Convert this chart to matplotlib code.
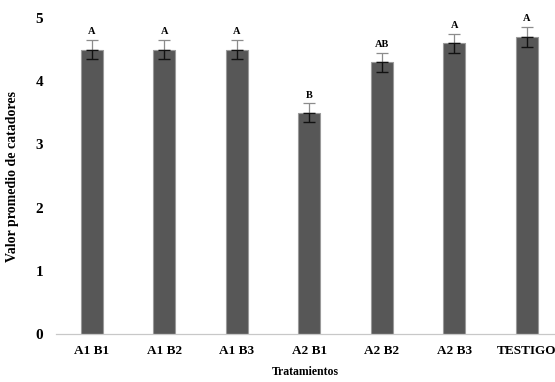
import matplotlib.pyplot as plt

# data
tratamientos = ['A1 B1', 'A1 B2', 'A1 B3', 'A2 B1', 'A2 B2', 'A2 B3', 'TESTIGO']
promedio = [4.5, 4.5, 4.5, 3.5, 4.3, 4.6, 4.7]
error = [0.15, 0.15, 0.15, 0.15, 0.15, 0.15, 0.16]
letras = ['A', 'A', 'A', 'B', 'AB', 'A', 'A']

plt.rcParams['font.family'] = ['Liberation Serif', 'DejaVu Serif']
plt.rcParams['font.weight'] = 'bold'

fig = plt.figure(figsize=(5.55, 3.82), dpi=100)
ax = fig.add_axes([0.1, 0.125, 0.9, 0.828])

x = list(range(len(tratamientos)))
ax.bar(x, promedio, width=0.30, color='#575757', edgecolor='#9a9a9a', linewidth=0.8, zorder=2)

# upper half of the error bar shows grey on white, lower half dark over the bar
ax.errorbar(x, promedio, yerr=[[0] * len(x), error], fmt='none', ecolor='#8c8c8c',
            elinewidth=0.9, capsize=4, capthick=0.9, zorder=3)
ax.errorbar(x, promedio, yerr=[error, [0] * len(x)], fmt='none', ecolor='#111111',
            elinewidth=1.0, capsize=4, capthick=1.0, zorder=3)

for xi, v, e, l in zip(x, promedio, error, letras):
    ax.text(xi, v + e + 0.06, l, ha='center', va='bottom', fontsize=7.5, fontweight='bold')

ax.set_xlim(-0.5, 6.39)
ax.set_ylim(0, 5)
ax.set_yticks([0, 1, 2, 3, 4, 5])
ax.set_xticks(x)
ax.set_xticklabels(tratamientos, fontsize=9.5, fontweight='bold')
ax.tick_params(axis='y', labelsize=11, length=0, pad=9)
ax.tick_params(axis='x', length=0, pad=8)

for s in ['top', 'right', 'left']:
    ax.spines[s].set_visible(False)
ax.spines['bottom'].set_color('#c8c8c8')
ax.spines['bottom'].set_linewidth(0.9)

ax.set_xlabel('Tratamientos', fontsize=8.5, fontweight='bold', labelpad=6)
ax.set_ylabel('Valor promedio de catadores', fontsize=10, fontweight='bold', labelpad=12)

fig.savefig('out.png', dpi=100)
